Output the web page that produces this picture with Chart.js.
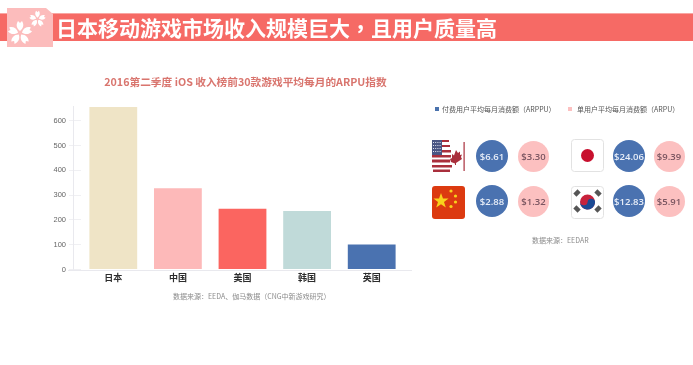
<!DOCTYPE html>
<html lang="zh">
<head>
<meta charset="utf-8">
<script src="https://cdn.jsdelivr.net/npm/chart.js@4"></script>
<style>
html,body{margin:0;padding:0;background:#fff;overflow:hidden}
body{width:693px;height:365px;position:relative;font-family:"Noto Sans CJK SC","Noto Sans",sans-serif}
#wrap{position:absolute;left:0;top:0;width:693px;height:365px;filter:blur(.5px)}
#wrap>*{position:absolute}
#c{left:0;top:0;width:693px;height:365px}
#band{left:0;top:13px;width:693px;height:28px;background:#f66a65;border-top:1px solid #f9a6a2;box-sizing:border-box}
#badge{left:7px;top:8px;width:46px;height:39px}
#head{left:56px;top:13px;font-size:21px;line-height:29px;font-weight:700;color:#fff;white-space:nowrap}
#head span{font-family:"Noto Sans CJK TC"}
#ctitle{left:0;top:75px;width:491px;text-align:center;font-size:10.7px;line-height:14px;font-weight:700;color:#d9756e;white-space:nowrap}
.src{font-size:7px;line-height:10px;color:#8b8b8b;white-space:nowrap}
.leg{font-size:7px;line-height:10px;color:#555;white-space:nowrap}
.sq{width:4px;height:4px}
.dot{border-radius:50%;display:flex;align-items:center;justify-content:center;font-family:"Open Sans","Noto Sans",sans-serif;font-size:9.5px;font-weight:600;white-space:nowrap}
.flag{overflow:visible}
</style>
</head>
<body>
<div id="wrap">
  <canvas id="c" width="693" height="365"></canvas>
  <div id="band"></div>
  <svg id="badge" viewBox="0 0 46 39">
    <defs>
      <g id="petals" fill="#fff">
        <path id="pt" d="M0 -2C-4 -5 -4 -9 -2 -12L0 -10L2 -12C4 -9 4 -5 0 -2Z"/>
        <use href="#pt" transform="rotate(72)"/>
        <use href="#pt" transform="rotate(144)"/>
        <use href="#pt" transform="rotate(216)"/>
        <use href="#pt" transform="rotate(288)"/>
      </g>
    </defs>
    <path d="M0 0H39L46 6V39H0Z" fill="#fcbcbc"/>
    <use href="#petals" transform="translate(13 25)"/>
    <use href="#petals" transform="translate(30.5 11) scale(.68)"/>
  </svg>
  <div id="head">日本移动游戏市场收入规模巨大<span lang="zh-TW">，</span>且用户质量高</div>
  <div id="ctitle">2016第二季度 iOS 收入榜前30款游戏平均每月的ARPU指数</div>
  <div class="src" style="left:173px;top:291px">数据来源：EEDA、伽马数据（CNG中新游戏研究）</div>

  <div class="sq" style="left:435px;top:107px;background:#4a72ad"></div>
  <div class="leg" style="left:442px;top:104px">付费用户平均每月消费额（ARPPU）</div>
  <div class="sq" style="left:568px;top:107px;background:#fcc0c0"></div>
  <div class="leg" style="left:577px;top:104px">单用户平均每月消费额（ARPU）</div>

  <!-- US / Canada -->
  <svg class="flag" style="left:431px;top:139px" width="36" height="34" viewBox="0 0 36 34">
    <g fill="#a92f3c">
      <path d="M1 1H18V3H1Z"/><path d="M1 6H19V8H1Z"/><path d="M1 11H20V13.5H1Z"/>
      <path d="M1 16H20V18.5H1Z"/><path d="M1 20.5H19V23.5H1Z"/><path d="M1 26H21V28.5H1Z"/><path d="M2 30.5H19V33H2Z"/>
      <path d="M19 20L21 19V15L23 16.5L25 11L27 14L29 12.5V16L31 15.5L30 18L31 20L25 24V26H24V24.5L20 23Z"/>
      <rect x="32.5" y="3" width="1.2" height="29"/>
    </g>
    <rect x="1" y="1" width="10" height="15" fill="#4a5684"/>
    <g stroke="#dfe3ef" stroke-width="1" stroke-dasharray="1 1.2">
      <path d="M2 3.5H10M2 6.5H10M2 9.5H10M2 12.5H10"/>
    </g>
  </svg>
  <!-- Japan -->
  <svg class="flag" style="left:571px;top:139px" width="33" height="33" viewBox="0 0 33 33">
    <rect x=".5" y=".5" width="32" height="32" rx="3" fill="#fff" stroke="#e2e2e2"/>
    <circle cx="16.5" cy="16.5" r="6.5" fill="#c8102e"/>
  </svg>
  <!-- China -->
  <svg class="flag" style="left:432px;top:186px" width="33" height="33" viewBox="0 0 33 33">
    <rect width="33" height="33" rx="3" fill="#dc3a10"/>
    <path d="M9 7L11 12.6H16.6L12 16L13.8 21.6L9 18.2L4.2 21.6L6 16L1.4 12.6H7Z" fill="#f8d21c"/>
    <g fill="#f8d21c"><circle cx="19" cy="5" r="1.6"/><circle cx="23.5" cy="10" r="1.6"/><circle cx="23.5" cy="16" r="1.6"/><circle cx="19" cy="20.5" r="1.6"/></g>
  </svg>
  <!-- Korea -->
  <svg class="flag" style="left:571px;top:186px" width="33" height="33" viewBox="0 0 33 33">
    <rect x=".5" y=".5" width="32" height="32" rx="3" fill="#fff" stroke="#e2e2e2"/>
    <circle cx="16.5" cy="16" r="7.5" fill="#c8223c"/>
    <path d="M9 15a7.5 7.5 0 0 0 15 2a3.7 3.7 0 0 0-7.4-1a3.7 3.7 0 0 1-7.4-1Z" fill="#1c4a94"/>
    <g fill="#555">
      <rect x="-3" y="-2.2" width="6" height="4.4" transform="translate(6 7) rotate(-45)"/>
      <rect x="-3" y="-2.2" width="6" height="4.4" transform="translate(27 7) rotate(45)"/>
      <rect x="-3" y="-2.2" width="6" height="4.4" transform="translate(6 23) rotate(45)"/>
      <rect x="-3" y="-2.2" width="6" height="4.4" transform="translate(27 23) rotate(-45)"/>
    </g>
  </svg>
  <div class="src" style="left:532px;top:235px">数据来源：EEDAR</div>
</div>
<script>
const categories = ["日本", "中国", "美国", "韩国", "英国"];
const arpuIndex = [656, 328, 245, 236, 101];
const barColors = ["#efe4c6", "#fdb9b9", "#fb6560", "#c0dad9", "#4a72b0"];
const yTicks = [0, 100, 200, 300, 400, 500, 600];

const circleCx = [[492, 533.5], [629, 669]];
const circleRowsCy = [156, 201];
const arppuValues = [["$6.61", "$24.06"], ["$2.88", "$12.83"]];
const arpuValues = [["$3.30", "$9.39"], ["$1.32", "$5.91"]];

const wrap = document.getElementById("wrap");
function addDot(cx, cy, r, bg, color, text) {
  const d = document.createElement("div");
  d.className = "dot";
  d.style.cssText = `left:${cx - r}px;top:${cy - r}px;width:${2 * r}px;height:${2 * r}px;background:${bg};color:${color}`;
  d.textContent = text;
  wrap.appendChild(d);
}
circleRowsCy.forEach((cy, row) => {
  circleCx.forEach((xs, col) => {
    addDot(xs[0], cy, 16, "#4a72b0", "#e8eef8", arppuValues[row][col]);
    addDot(xs[1], cy, 15.5, "#fcc0c0", "#7a5560", arpuValues[row][col]);
  });
});

const axisExtras = {
  id: "axisExtras",
  beforeDatasetsDraw(chart) {
    const { ctx, scales: { x, y } } = chart;
    ctx.save();
    ctx.strokeStyle = "#e9e9ee";
    ctx.lineWidth = 1;
    ctx.beginPath();
    ctx.moveTo(x.left - 13, Math.round(y.getPixelForValue(0)) + .5);
    ctx.lineTo(x.right + 8, Math.round(y.getPixelForValue(0)) + .5);
    ctx.moveTo(x.left - 7.5, y.getPixelForValue(0));
    ctx.lineTo(x.left - 7.5, y.top + 10);
    ctx.stroke();
    ctx.restore();
  }
};

new Chart(document.getElementById("c"), {
  type: "bar",
  data: {
    labels: categories,
    datasets: [{ data: arpuIndex, backgroundColor: barColors, borderWidth: 0, categoryPercentage: 1, barPercentage: 0.74 }]
  },
  plugins: [axisExtras],
  options: {
    responsive: false,
    animation: false,
    layout: { padding: { left: 52, right: 289, top: 96, bottom: 0 } },
    plugins: {
      legend: { display: false },
      tooltip: { enabled: false },
      title: { display: false }
    },
    scales: {
      x: {
        grid: { display: false, drawTicks: false },
        border: { display: false },
        ticks: { color: "#2d2d2d", font: { family: '"Noto Sans CJK SC"', size: 9, weight: "bold" }, padding: 3, maxRotation: 0 },
        afterFit(s) { s.height = 365 - 269.5 ; }
      },
      y: {
        min: 0,
        max: 700,
        afterBuildTicks(s) { s.ticks = yTicks.map(v => ({ value: v })); },
        grid: { drawOnChartArea: false, drawTicks: true, tickLength: 12, color: "#f0f0f3" },
        border: { display: false },
        ticks: { color: "#666", font: { family: '"Liberation Sans"', size: 7.5 }, padding: 3 },
        afterFit(s) { s.width = 29; }
      }
    }
  }
});
</script>
</body>
</html>
